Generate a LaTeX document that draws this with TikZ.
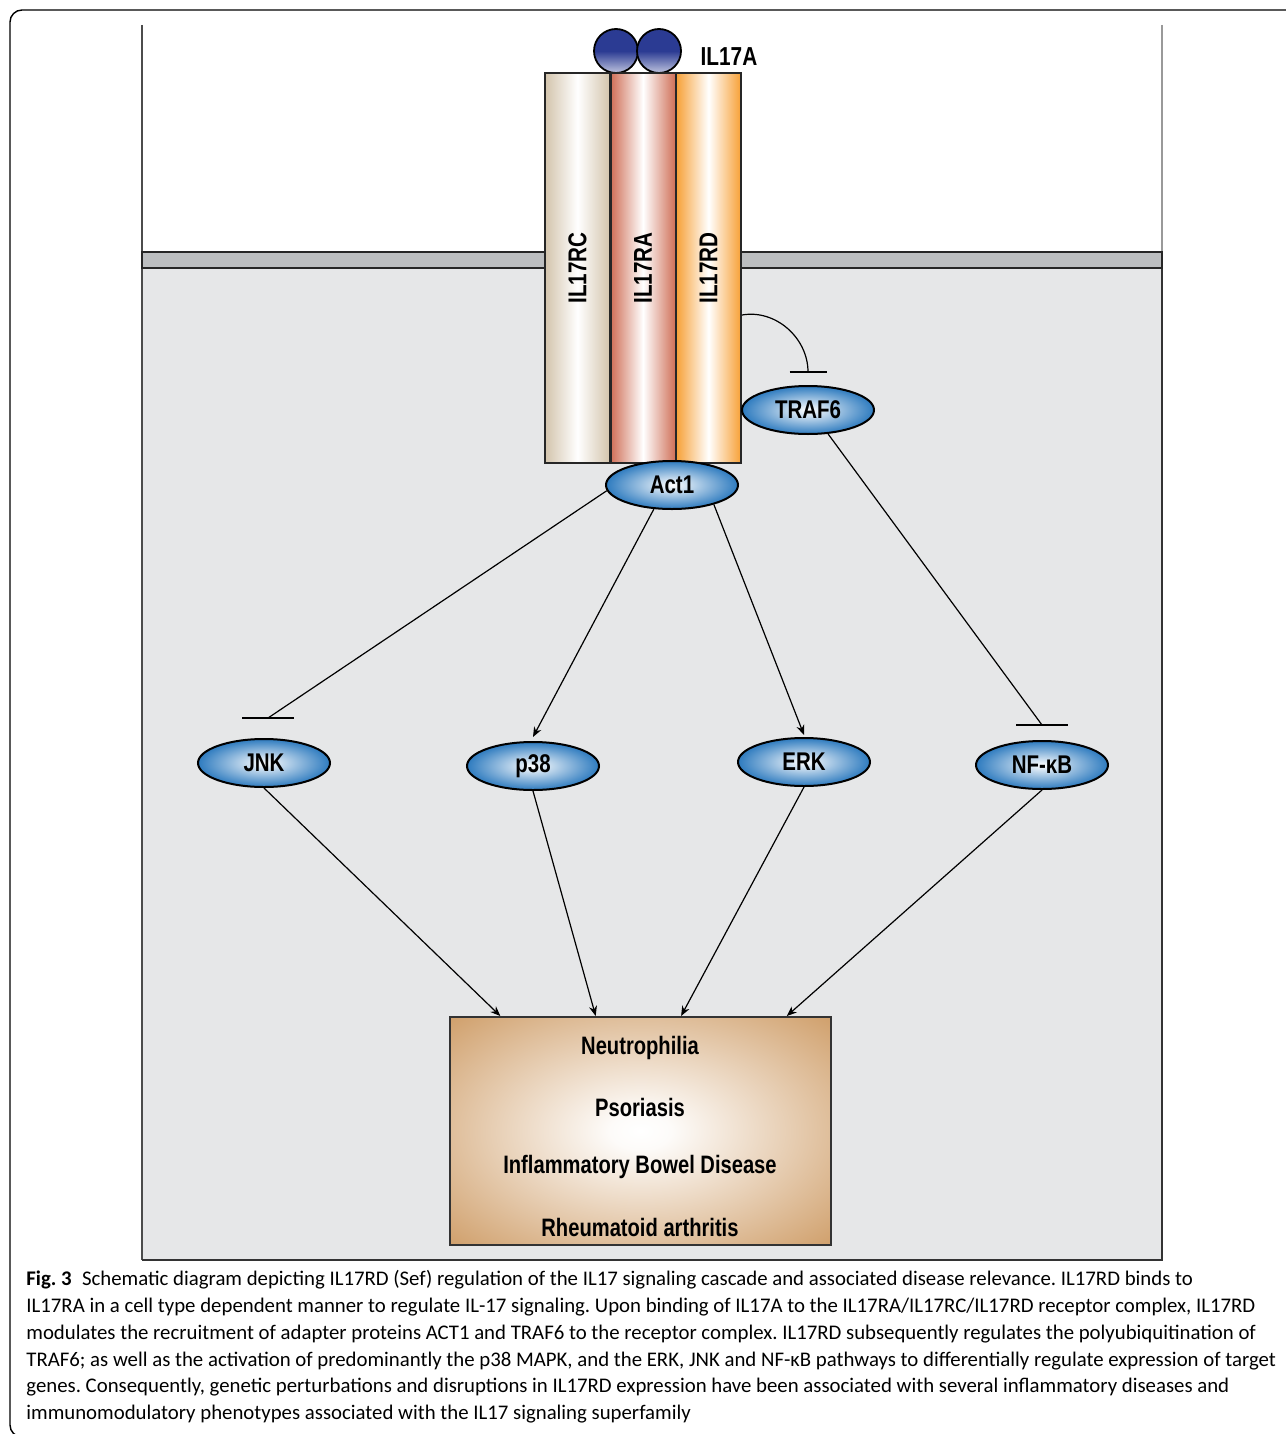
\documentclass[tikz,border=0pt]{standalone}
\usepackage{fontspec}
\usetikzlibrary{shapes.geometric,arrows.meta,calc}
\newfontfamily\labfont[FakeStretch=0.8]{Liberation Sans}
\newfontfamily\capfont{Carlito}
\definecolor{membrane}{HTML}{BCBEC0}
\definecolor{cytoplasm}{HTML}{E6E7E8}
\definecolor{rccol}{HTML}{D3C4AC}
\definecolor{racol}{HTML}{CF6F57}
\definecolor{rdcol}{HTML}{F7A036}
\definecolor{ilblue}{HTML}{2B3B93}
\definecolor{kinblue}{HTML}{2E7BBF}
\definecolor{boxtan}{HTML}{CF9E69}
\pgfdeclareradialshading{glow}{\pgfpoint{0bp}{0bp}}{color(0bp)=(white); color(4bp)=(white!96!boxtan); color(36bp)=(boxtan); color(50bp)=(boxtan)}
\tikzset{
  receptor/.style={rectangle,draw=black!85,line width=1pt,minimum width=32.5pt,minimum height=195pt,inner sep=0pt,font=\labfont\bfseries\fontsize{12.9}{14}\selectfont},
  kinase/.style={ellipse,draw=black,line width=1pt,inner color=white,outer color=kinblue,minimum width=66pt,minimum height=24pt,inner sep=0pt,font=\labfont\bfseries\fontsize{12.8}{14}\selectfont},
  ligand/.style={circle,draw=black,line width=0.9pt,top color=ilblue,bottom color=white!70!ilblue,middle color=ilblue,minimum size=22pt,inner sep=0pt},
  act/.style={-{Stealth[length=5pt,width=4pt]},line width=0.6pt},
  inh/.style={line width=0.6pt},
  disease/.style={font=\labfont\bfseries\fontsize{12.6}{14}\selectfont}
}
\begin{document}
\begin{tikzpicture}[x=0.5pt,y=-0.5pt]
\useasboundingbox (0,0) rectangle (1285,1434);

%panel frame
\draw[line width=0.7pt,rounded corners=6pt] (1290,10) -- (10,10) -- (10,1437) -- (40,1437);

%cell
\fill[cytoplasm] (142,268) rectangle (1162,1260);
\draw[line width=0.6pt,black!70] (142,25) -- (142,1260);
\draw[line width=0.6pt,black!40] (1162,25) -- (1162,252);
\draw[line width=1pt,black!80] (1162,268) -- (1162,1260) -- (142,1260);
\draw[line width=1.2pt,black!85,fill=membrane] (142,252) rectangle (1162,268);

%ligand
\node[ligand] (A1) at (616,51) {};
\node[ligand] (A2) at (659,51) {};
\node[font=\labfont\bfseries\fontsize{13}{14}\selectfont] (IL17A) at (729,57) {IL17A};

%receptors
\node[receptor,left color=rccol,right color=rccol,middle color=white] (RC) at (577.5,268) {\rotatebox{90}{IL17RC}};
\node[receptor,left color=racol,right color=racol,middle color=white] (RA) at (643,268) {\rotatebox{90}{IL17RA}};
\node[receptor,left color=rdcol,right color=rdcol,middle color=white] (RD) at (708.5,268) {\rotatebox{90}{IL17RD}};

%adapters
\node[kinase] (TRAF6) at (808,410) {TRAF6};
\node[kinase] (Act1) at (672,485) {Act1};

%kinases
\node[kinase] (JNK) at (264,763) {JNK};
\node[kinase] (p38) at (533,766) {p38};
\node[kinase] (ERK) at (804,762) {ERK};
\node[kinase] (NFkB) at (1042,765) {NF-κB};

%disease box
\node[rectangle,draw=black!80,line width=1pt,shading=glow,minimum width=190.5pt,minimum height=114pt] (box) at (640.5,1131) {};
\node[disease] (d1) at (640,1048) {Neutrophilia};
\node[disease] (d2) at (640,1107) {Psoriasis};
\node[disease] (d3) at (640,1167) {Inflammatory Bowel Disease};
\node[disease] (d4) at (640,1227) {Rheumatoid arthritis};

%inhibitions
\draw[inh] ([yshift=-23.5pt]RD.east) to[out=10,in=90] ([yshift=6.5pt]TRAF6.north) coordinate (tb);
\draw[inh] ([xshift=-9.25pt]tb) -- ([xshift=9.25pt]tb);
\draw[inh] (Act1.185) -- ([xshift=2pt,yshift=10pt]JNK.north) coordinate (jb);
\draw[inh] ([xshift=-13pt]jb) -- ([xshift=13pt]jb);
\draw[inh] (TRAF6.-50) -- ([yshift=7.5pt]NFkB.north) coordinate (nb);
\draw[inh] ([xshift=-13pt]nb) -- ([xshift=13pt]nb);

%activations
\draw[act] (Act1.233) -- ([yshift=2pt]p38.north);
\draw[act] (Act1.-25) -- ([yshift=1pt]ERK.north);
\draw[act] (JNK.south) -- ($(box.north west)!0.134!(box.north east)$);
\draw[act] (p38.south) -- ($(box.north west)!0.383!(box.north east)$);
\draw[act] (ERK.south) -- ($(box.north west)!0.606!(box.north east)$);
\draw[act] (NFkB.south) -- ($(box.north west)!0.882!(box.north east)$);

%caption
\node[anchor=north west,align=left,inner sep=0pt,font=\capfont\fontsize{10.4}{13.4}\selectfont\frenchspacing] (cap) at (26,1270) {%
\textbf{Fig. 3}\enspace Schematic diagram depicting IL17RD (Sef) regulation of the IL17 signaling cascade and associated disease relevance. IL17RD binds to\\
IL17RA in a cell type dependent manner to regulate IL-17 signaling. Upon binding of IL17A to the IL17RA/IL17RC/IL17RD receptor complex, IL17RD\\
modulates the recruitment of adapter proteins ACT1 and TRAF6 to the receptor complex. IL17RD subsequently regulates the polyubiquitination of\\
TRAF6; as well as the activation of predominantly the p38 MAPK, and the ERK, JNK and NF-κB pathways to differentially regulate expression of target\\
genes. Consequently, genetic perturbations and disruptions in IL17RD expression have been associated with several inflammatory diseases and\\
immunomodulatory phenotypes associated with the IL17 signaling superfamily};
\end{tikzpicture}
\end{document}
